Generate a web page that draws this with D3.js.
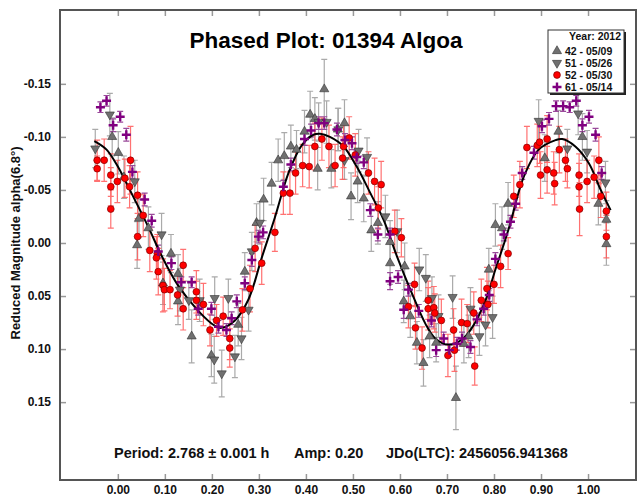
<!DOCTYPE html>
<html>
<head>
<meta charset="utf-8">
<script src="https://cdn.jsdelivr.net/npm/d3@7"></script>
<style>
  body { margin: 0; background: #fff; }
  svg text { font-family: "Liberation Sans", Arial, sans-serif; font-weight: bold; }
</style>
</head>
<body>
<div id="chart"></div>
<script>
// phase, reduced magnitude, error
var s42 = [
  [-0.012,-0.100,0.018],[0.001,-0.085,0.020],[0.013,-0.062,0.020],[0.045,-0.023,0.018],[0.041,0.002,0.022],
  [0.065,-0.014,0.020],[0.113,0.010,0.018],[0.096,0.038,0.020],[0.128,0.029,0.018],[0.128,0.055,0.022],
  [0.157,0.088,0.025],[0.199,0.106,0.020],[0.256,0.077,0.020],[0.270,0.027,0.018],[0.295,-0.019,0.018],
  [0.310,-0.041,0.020],[0.327,-0.056,0.020],[0.341,-0.078,0.020],[0.354,-0.082,0.022],[0.368,-0.091,0.020],
  [0.380,-0.088,0.018],[0.397,-0.105,0.020],[0.409,-0.121,0.022],[0.419,-0.117,0.020],[0.425,-0.070,0.020],
  [0.439,-0.145,0.028],[0.454,-0.070,0.018],[0.468,-0.107,0.020],[0.482,-0.113,0.022],[0.496,-0.044,0.022],
  [0.510,-0.058,0.020],[0.523,-0.042,0.022],[0.539,-0.012,0.020],[0.553,-0.019,0.020],[0.579,-0.001,0.020],
  [0.579,0.019,0.020],[0.610,0.022,0.022],[0.608,0.055,0.020],[0.622,0.069,0.020],[0.636,0.094,0.020],
  [0.650,0.113,0.022],[0.663,0.088,0.020],[0.677,0.094,0.018],[0.719,0.146,0.030],[0.746,0.088,0.020],
  [0.736,0.095,0.018],[0.789,0.025,0.020],[0.803,-0.017,0.020],[0.817,-0.014,0.020],[0.830,-0.037,0.020],
  [0.908,-0.080,0.022],[0.937,-0.105,0.020],[0.988,-0.100,0.022],[1.022,-0.037,0.020],[1.039,-0.022,0.018],
  [1.039,0.001,0.020]
];
var s51 = [
  [-0.048,-0.089,0.018],[-0.017,-0.121,0.020],[0.036,-0.058,0.020],[0.093,-0.008,0.020],[0.132,0.044,0.020],
  [0.151,0.054,0.018],[0.174,0.054,0.020],[0.206,0.052,0.020],[0.205,0.110,0.022],[0.221,0.123,0.022],
  [0.235,0.052,0.018],[0.249,0.107,0.020],[0.263,0.090,0.020],[0.278,0.063,0.020],[0.285,0.008,0.018],
  [0.302,-0.019,0.020],[0.427,-0.114,0.018],[0.444,-0.114,0.020],[0.469,-0.107,0.020],[0.482,-0.078,0.018],
  [0.512,-0.087,0.020],[0.530,-0.081,0.018],[0.569,-0.025,0.020],[0.594,-0.011,0.020],[0.641,0.025,0.020],
  [0.655,0.033,0.022],[0.668,0.052,0.020],[0.682,0.069,0.020],[0.712,0.051,0.020],[0.750,0.062,0.020],
  [0.769,0.088,0.018],[0.782,0.077,0.020],[0.797,0.070,0.020],[0.895,-0.115,0.020],[0.956,-0.089,0.018],
  [0.979,-0.122,0.020],[0.998,-0.086,0.020],[1.037,-0.057,0.020]
];
var s52 = [
  [-0.044,-0.078,0.019],[-0.044,-0.070,0.012],[-0.029,-0.078,0.020],[-0.015,-0.064,0.020],[-0.015,-0.053,0.018],
  [-0.015,-0.032,0.018],[-0.001,-0.058,0.020],[0.015,-0.061,0.018],[0.025,-0.053,0.020],[0.027,-0.078,0.032],
  [0.042,-0.045,0.022],[0.054,-0.026,0.020],[0.042,-0.006,0.022],[0.068,0.007,0.020],[0.084,0.010,0.018],
  [0.082,0.014,0.020],[0.086,0.027,0.022],[0.096,0.040,0.025],[0.099,0.044,0.020],[0.111,0.044,0.018],
  [0.127,0.049,0.020],[0.139,0.021,0.015],[0.139,0.062,0.020],[0.167,0.046,0.020],[0.167,0.054,0.018],
  [0.182,0.058,0.020],[0.196,0.082,0.015],[0.210,0.073,0.015],[0.224,0.069,0.018],[0.238,0.090,0.020],
  [0.238,0.099,0.018],[0.265,0.063,0.020],[0.281,0.043,0.022],[0.292,0.005,0.022],[0.306,0.019,0.020],
  [0.334,-0.010,0.018],[0.352,-0.047,0.020],[0.366,-0.047,0.020],[0.378,-0.066,0.020],[0.393,-0.073,0.020],
  [0.407,-0.072,0.020],[0.419,-0.091,0.022],[0.434,-0.098,0.020],[0.449,-0.091,0.020],[0.462,-0.073,0.020],
  [0.478,-0.080,0.020],[0.480,-0.091,0.020],[0.492,-0.099,0.020],[0.505,-0.083,0.020],[0.533,-0.066,0.020],
  [0.546,-0.058,0.022],[0.560,-0.055,0.022],[0.554,-0.033,0.020],[0.589,-0.011,0.020],[0.603,-0.005,0.018],
  [0.631,0.039,0.020],[0.618,0.060,0.020],[0.633,0.080,0.020],[0.647,0.099,0.020],[0.660,0.054,0.018],
  [0.660,0.062,0.020],[0.672,0.061,0.020],[0.674,0.066,0.018],[0.688,0.073,0.020],[0.702,0.106,0.020],
  [0.714,0.082,0.020],[0.716,0.101,0.020],[0.731,0.075,0.022],[0.743,0.076,0.018],[0.759,0.116,0.018],
  [0.757,0.066,0.020],[0.773,0.054,0.020],[0.785,0.043,0.020],[0.787,0.058,0.022],[0.800,0.039,0.018],
  [0.814,0.022,0.020],[0.830,0.010,0.015],[0.842,-0.044,0.020],[0.855,-0.055,0.022],[0.870,-0.090,0.020],
  [0.892,-0.092,0.020],[0.897,-0.095,0.020],[0.913,-0.098,0.022],[0.899,-0.064,0.022],[0.913,-0.069,0.022],
  [0.927,-0.066,0.020],[0.929,-0.056,0.020],[0.939,-0.088,0.022],[0.952,-0.078,0.020],[0.956,-0.070,0.018],
  [0.981,-0.064,0.020],[0.981,-0.053,0.022],[0.982,-0.032,0.025],[0.998,-0.058,0.020],[1.013,-0.062,0.020],
  [1.023,-0.078,0.022],[1.027,-0.044,0.020],[1.039,-0.030,0.018],[1.039,-0.006,0.020]
];
var s61 = [
  [-0.037,-0.128,0.005],[-0.024,-0.134,0.005],[-0.010,-0.111,0.006],[0.005,-0.119,0.005],[0.018,-0.102,0.006],
  [0.031,-0.067,0.006],[0.057,-0.041,0.006],[0.072,-0.021,0.006],[0.086,0.008,0.006],[0.114,0.019,0.006],
  [0.135,0.037,0.005],[0.157,0.037,0.005],[0.171,0.062,0.006],[0.199,0.062,0.006],[0.214,0.079,0.006],
  [0.231,0.082,0.006],[0.242,0.071,0.006],[0.253,0.055,0.006],[0.270,0.038,0.006],[0.285,0.016,0.006],
  [0.299,-0.006,0.006],[0.309,-0.010,0.006],[0.352,-0.053,0.006],[0.368,-0.074,0.006],[0.397,-0.098,0.006],
  [0.411,-0.106,0.006],[0.427,-0.113,0.006],[0.439,-0.113,0.006],[0.466,-0.107,0.006],[0.483,-0.097,0.006],
  [0.498,-0.094,0.006],[0.508,-0.081,0.006],[0.523,-0.076,0.006],[0.537,-0.031,0.006],[0.553,-0.008,0.006],
  [0.579,-0.008,0.006],[0.579,0.036,0.008],[0.596,0.032,0.006],[0.608,0.063,0.008],[0.618,0.044,0.006],
  [0.640,0.064,0.006],[0.667,0.073,0.006],[0.677,0.101,0.006],[0.693,0.090,0.006],[0.705,0.101,0.006],
  [0.721,0.095,0.006],[0.750,0.098,0.006],[0.732,0.090,0.006],[0.764,0.072,0.006],[0.778,0.062,0.006],
  [0.790,0.049,0.006],[0.803,0.015,0.006],[0.821,-0.008,0.006],[0.835,-0.020,0.006],[0.846,-0.037,0.006],
  [0.860,-0.066,0.006],[0.885,-0.085,0.006],[0.902,-0.110,0.006],[0.917,-0.117,0.006],[0.932,-0.129,0.005],
  [0.947,-0.129,0.005],[0.961,-0.128,0.005],[0.975,-0.134,0.005],[0.988,-0.111,0.006],[1.002,-0.119,0.006],
  [1.016,-0.102,0.006],[1.029,-0.066,0.006]
];
// fitted curve
var fitCurve = [
  [-0.050,-0.096],[-0.024,-0.088],[0.000,-0.072],[0.029,-0.047],[0.065,-0.015],[0.093,0.012],
  [0.128,0.040],[0.171,0.064],[0.206,0.078],[0.220,0.080],[0.249,0.073],[0.278,0.053],[0.306,0.014],
  [0.334,-0.024],[0.363,-0.066],[0.391,-0.092],[0.416,-0.102],[0.430,-0.103],[0.451,-0.100],[0.480,-0.091],
  [0.508,-0.072],[0.537,-0.047],[0.565,-0.022],[0.594,0.013],[0.625,0.047],[0.654,0.076],[0.675,0.090],
  [0.704,0.096],[0.732,0.091],[0.753,0.080],[0.782,0.054],[0.803,0.025],[0.824,-0.003],[0.835,-0.019],
  [0.863,-0.062],[0.895,-0.088],[0.931,-0.097],[0.945,-0.098],[0.973,-0.091],[1.002,-0.075],[1.027,-0.050],
  [1.048,-0.031]
];
var xTicks = [0, 0.1, 0.2, 0.3, 0.4, 0.5, 0.6, 0.7, 0.8, 0.9, 1.0];
var yTicks = [-0.15, -0.10, -0.05, 0, 0.05, 0.10, 0.15];
var legendLabels = ["42 - 05/09", "51 - 05/26", "52 - 05/30", "61 - 05/14"];

(function() {
var width = 637, height = 496;
var pLeft = 60, pRight = 636, pTop = 10, pBottom = 480;

var x = d3.scaleLinear().domain([-0.123, 1.102]).range([pLeft, pRight]);
var y = d3.scaleLinear().domain([-0.2196, 0.2234]).range([pTop, pBottom]);

var svg = d3.select("#chart").append("svg")
    .attr("width", width)
    .attr("height", height);

// axes, ticks pointing inward
var fmt = function(d) { return d.toFixed(2); };
svg.append("g").attr("transform", "translate(0," + pBottom + ")")
    .call(d3.axisBottom(x).tickValues(xTicks).tickSize(-6).tickSizeOuter(0).tickPadding(5).tickFormat(fmt));
svg.append("g").attr("transform", "translate(0," + pTop + ")")
    .call(d3.axisTop(x).tickValues(xTicks).tickSize(-6).tickSizeOuter(0).tickFormat(""));
svg.append("g").attr("transform", "translate(" + pLeft + ",0)")
    .call(d3.axisLeft(y).tickValues(yTicks).tickSize(-6).tickSizeOuter(0).tickPadding(9).tickFormat(fmt));
svg.append("g").attr("transform", "translate(" + pRight + ",0)")
    .call(d3.axisRight(y).tickValues(yTicks).tickSize(-6).tickSizeOuter(0).tickFormat(""));
svg.selectAll(".domain").remove();
svg.selectAll(".tick line").attr("stroke", "#999").attr("stroke-width", 1.5);
svg.selectAll(".tick text").attr("font-size", 12).attr("fill", "#111")
    .style("font-family", "'Liberation Sans', Arial, sans-serif").style("font-weight", "bold");

svg.append("rect")
    .attr("x", pLeft).attr("y", pTop)
    .attr("width", pRight - pLeft).attr("height", pBottom - pTop)
    .attr("fill", "none").attr("stroke", "#555").attr("stroke-width", 2);

var series = [
  { data: s42, bar: "#aaaaaa", kind: "up" },
  { data: s51, bar: "#aaaaaa", kind: "down" },
  { data: s52, bar: "#ff5a5a", kind: "dot" },
  { data: s61, bar: "#9a4a9a", kind: "plus" }
];

// error bars
var plot = svg.append("g");
series.forEach(function(s) {
  var g = plot.append("g").attr("stroke", s.bar).attr("stroke-width", 1.2).attr("fill", "none")
      .attr("opacity", s.kind == "dot" ? 0.85 : 1);
  s.data.forEach(function(d) {
    var cx = x(d[0]), y0 = y(d[1] - d[2]), y1 = y(d[1] + d[2]);
    var cap = 3;
    g.append("path").attr("d",
      "M" + cx + "," + y0 + "V" + y1 +
      "M" + (cx - cap) + "," + y0 + "H" + (cx + cap) +
      "M" + (cx - cap) + "," + y1 + "H" + (cx + cap));
  });
});

// fit curve
var line = d3.line()
    .x(function(d) { return x(d[0]); })
    .y(function(d) { return y(d[1]); })
    .curve(d3.curveCatmullRom);
plot.append("path").datum(fitCurve)
    .attr("d", line).attr("fill", "none").attr("stroke", "#000").attr("stroke-width", 2);

var tri = d3.symbol().type(d3.symbolTriangle).size(36);
function drawMarker(g, kind, cx, cy) {
  if (kind == "up" || kind == "down") {
    g.append("path").attr("d", tri())
      .attr("transform", "translate(" + cx + "," + cy + ")" + (kind == "down" ? "rotate(180)" : ""))
      .attr("fill", "#707070").attr("stroke", "#333").attr("stroke-width", 0.6);
  } else if (kind == "dot") {
    g.append("circle").attr("cx", cx).attr("cy", cy).attr("r", 3.4)
      .attr("fill", "#f00").attr("stroke", "#800000").attr("stroke-width", 0.7);
  } else {
    g.append("path").attr("d", "M" + (cx - 4.5) + "," + cy + "H" + (cx + 4.5) + "M" + cx + "," + (cy - 4.5) + "V" + (cy + 4.5))
      .attr("stroke", "#800080").attr("stroke-width", 2.4).attr("fill", "none");
  }
}

series.forEach(function(s) {
  var g = plot.append("g");
  s.data.forEach(function(d) { drawMarker(g, s.kind, x(d[0]), y(d[1])); });
});

// title
svg.append("text").attr("x", 326).attr("y", 48).attr("text-anchor", "middle")
    .attr("font-size", 22.5).attr("fill", "#000").text("Phased Plot: 01394 Algoa");

// y label
svg.append("text").attr("transform", "translate(20,243)rotate(-90)").attr("text-anchor", "middle")
    .attr("font-size", 13).attr("fill", "#111").text("Reduced Magnitude alpha(6.8\u00b0)");

// stats line
var stats = svg.append("g").attr("font-size", 14.5).attr("fill", "#111");
stats.append("text").attr("x", 114).attr("y", 458).text("Period: 2.768 \u00b1 0.001 h");
stats.append("text").attr("x", 294).attr("y", 458).text("Amp: 0.20");
stats.append("text").attr("x", 386).attr("y", 458).text("JDo(LTC): 2456056.941368");

// legend
var lg = svg.append("g").attr("transform", "translate(548,30)");
lg.append("rect").attr("x", 2).attr("y", 2).attr("width", 76).attr("height", 63).attr("fill", "#222");
lg.append("rect").attr("width", 76).attr("height", 63).attr("fill", "#fff").attr("stroke", "#333").attr("stroke-width", 1);
lg.append("text").attr("x", 73).attr("y", 10).attr("text-anchor", "end").attr("font-size", 10.5).attr("fill", "#111").text("Year: 2012");
legendLabels.forEach(function(lbl, i) {
  var yy = 21 + i * 12;
  drawMarker(lg, series[i].kind, 9, yy);
  lg.append("text").attr("x", 17).attr("y", yy + 4).attr("font-size", 10.5).attr("fill", "#111").text(lbl);
});
})();
</script>
</body>
</html>
